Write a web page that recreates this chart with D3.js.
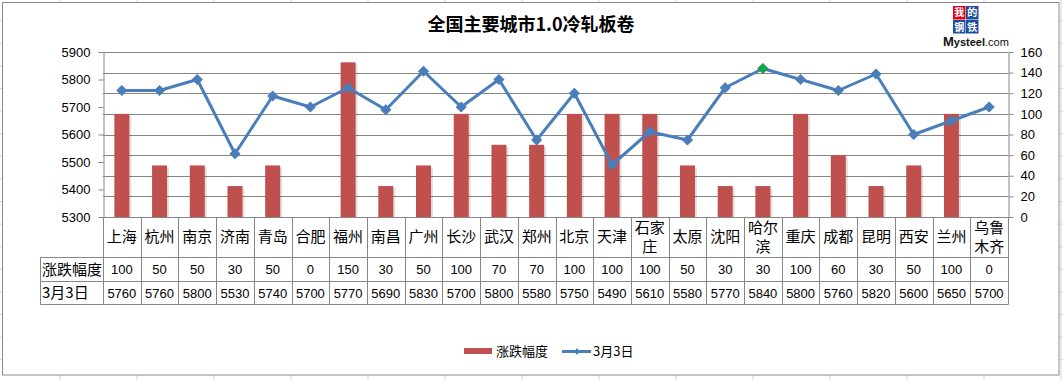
<!DOCTYPE html>
<html><head><meta charset="utf-8">
<script src="https://cdn.jsdelivr.net/npm/d3@7"></script>
<style>body{margin:0;background:#fff}svg{display:block}</style>
</head><body>
<svg id="c" width="1063" height="380"></svg>
<script>
const cities = ["上海","杭州","南京","济南","青岛","合肥","福州","南昌","广州","长沙","武汉","郑州","北京","天津","石家庄","太原","沈阳","哈尔滨","重庆","成都","昆明","西安","兰州","乌鲁木齐"];
const change = [100,50,50,30,50,0,150,30,50,100,70,70,100,100,100,50,30,30,100,60,30,50,100,0];
const price = [5760,5760,5800,5530,5740,5700,5770,5690,5830,5700,5800,5580,5750,5490,5610,5580,5770,5840,5800,5760,5820,5600,5650,5700];
const leftTicks = [5300,5400,5500,5600,5700,5800,5900];
const rightTicks = [0,20,40,60,80,100,120,140,160];
const seriesNames = ["涨跌幅度","3月3日"];
const title = "全国主要城市1.0冷轧板卷";
const highlight = "哈尔滨";

const svg = d3.select("#c");
const W = 1063, H = 380;
const CJK = "'Noto Sans CJK SC', 'Noto Sans', sans-serif";
const NUM = "'Liberation Sans', Arial, sans-serif";
const grid = "#868686";

// spreadsheet background grid
const bg = svg.append("g");
d3.range(60, W, 77).forEach(x => bg.append("line").attr("x1",x).attr("x2",x).attr("y1",0).attr("y2",H).attr("stroke","#d4d4d4"));
d3.range(20.7, H, 22.6).forEach(y => bg.append("line").attr("x1",0).attr("x2",W).attr("y1",y).attr("y2",y).attr("stroke","#d4d4d4"));
svg.append("rect").attr("x",2.5).attr("y",2.5).attr("width",1056.5).attr("height",372.5).attr("fill","#fff").attr("stroke","#8c8c8c").attr("stroke-width",1);

const L = 103, R = 1008, T = 52, B = 217;
const x = d3.scaleBand().domain(cities).range([L,R]).padding(0);
const yL = d3.scaleLinear().domain([5300,5900]).range([B,T]);
const yR = d3.scaleLinear().domain([0,160]).range([B,T]);

// gridlines
svg.append("g").selectAll("line").data(rightTicks).join("line")
  .attr("x1",L).attr("x2",R).attr("y1",d=>Math.round(yR(d))+0.5).attr("y2",d=>Math.round(yR(d))+0.5)
  .attr("stroke",grid).attr("stroke-width",1);

// axes
const axL = svg.append("g").attr("transform",`translate(${L+0.5},0)`)
  .call(d3.axisLeft(yL).tickValues(leftTicks).tickFormat(d3.format("d")).tickSize(5).tickPadding(8).tickSizeOuter(0));
const axR = svg.append("g").attr("transform",`translate(${R+0.5},0)`)
  .call(d3.axisRight(yR).tickValues(rightTicks).tickFormat(d3.format("d")).tickSize(5).tickPadding(7).tickSizeOuter(0));
[axL,axR].forEach(a=>{
  a.select(".domain").attr("stroke",grid);
  a.selectAll(".tick line").attr("stroke",grid);
  a.selectAll("text").attr("font-family",NUM).attr("font-size",13).attr("fill","#000");
});

// bars with subtle shadow
const bw = 15;
const bars = svg.append("g");
bars.selectAll("rect.sh").data(cities).join("rect")
  .attr("x",d=>x(d)+x.bandwidth()/2-bw/2+2).attr("width",bw)
  .attr("y",(d,i)=>yR(change[i])+2).attr("height",(d,i)=>Math.max(0,B-yR(change[i])-2))
  .attr("fill","#000").attr("opacity",(d,i)=>change[i]>0?0.12:0);
bars.selectAll("rect.b").data(cities).join("rect")
  .attr("x",d=>x(d)+x.bandwidth()/2-bw/2).attr("width",bw)
  .attr("y",(d,i)=>yR(change[i])).attr("height",(d,i)=>B-yR(change[i]))
  .attr("fill","#C0504D");

// line
const cx = d=>x(d)+x.bandwidth()/2;
svg.append("path").datum(cities)
  .attr("d",d3.line().x(cx).y((d,i)=>yL(price[i])))
  .attr("fill","none").attr("stroke","#4A7EBB").attr("stroke-width",3).attr("stroke-linejoin","round");
svg.append("g").selectAll("path").data(cities).join("path")
  .attr("d", d3.symbol(d3.symbolSquare, 48))
  .attr("transform",(d,i)=>`translate(${cx(d)},${yL(price[i])}) rotate(45)`)
  .attr("fill",d=>d===highlight?"#00B050":"#4A7EBB")
  .attr("stroke",d=>d===highlight?"#3a8a4a":"#4A7EBB").attr("stroke-width",1);

// table
const tbl = svg.append("g");
const rowTop = B, r1 = 257.5, r2 = 281.5, r3 = 304.5, TL = 40.5;
cities.forEach(c=>{
  tbl.append("line").attr("x1",Math.round(x(c))+0.5).attr("x2",Math.round(x(c))+0.5).attr("y1",rowTop).attr("y2",r3).attr("stroke",grid);
});
tbl.append("line").attr("x1",R+0.5).attr("x2",R+0.5).attr("y1",rowTop).attr("y2",r3).attr("stroke",grid);
tbl.append("line").attr("x1",TL).attr("x2",TL).attr("y1",r1).attr("y2",r3).attr("stroke",grid);
[r1,r2,r3].forEach(y=>tbl.append("line").attr("x1",TL).attr("x2",R+0.5).attr("y1",y).attr("y2",y).attr("stroke",grid));

cities.forEach((c,i)=>{
  const lines = c.length<=2 ? [c] : [c.slice(0,2), c.slice(2)];
  const t = tbl.append("text").attr("x",cx(c)).attr("text-anchor","middle")
    .attr("font-family",CJK).attr("font-size",15).attr("fill","#000");
  if(lines.length===1){
    t.append("tspan").attr("x",cx(c)).attr("y",242).text(lines[0]);
  } else {
    t.append("tspan").attr("x",cx(c)).attr("y",233).text(lines[0]);
    t.append("tspan").attr("x",cx(c)).attr("y",252).text(lines[1]);
  }
  tbl.append("text").attr("x",cx(c)).attr("y",274).attr("text-anchor","middle")
    .attr("font-family",NUM).attr("font-size",13).attr("fill","#000").text(change[i]);
  tbl.append("text").attr("x",cx(c)).attr("y",298).attr("text-anchor","middle")
    .attr("font-family",NUM).attr("font-size",13).attr("fill","#000").text(price[i]);
});
tbl.append("text").attr("x",42).attr("y",275).attr("font-family",CJK).attr("font-size",15).attr("fill","#000").text(seriesNames[0]);
tbl.append("text").attr("x",42).attr("y",298).attr("font-family",CJK).attr("font-size",15).attr("fill","#000").text(seriesNames[1]);

// title
svg.append("text").attr("x",531).attr("y",31).attr("text-anchor","middle")
  .attr("font-family",CJK).attr("font-weight","bold").attr("font-size",18).attr("fill","#000").text(title);

// logo
const lg = svg.append("g");
const cells = [["我",953,6,16,"#e60012"],["的",966,6,16,"#1f4e9c"],["钢",953,20,31,"#1f4e9c"],["铁",966,20,31,"#1f4e9c"]];
cells.forEach(([ch,lx,ly,bl,col])=>{
  lg.append("rect").attr("x",lx).attr("y",ly).attr("width",12.5).attr("height",13.5).attr("fill",col);
  lg.append("text").attr("x",lx+6.25).attr("y",bl).attr("text-anchor","middle").attr("font-family","'Noto Sans CJK SC'")
    .attr("font-size",10).attr("font-weight","bold").attr("fill","#fff").text(ch);
});
const mt = lg.append("text").attr("x",943).attr("y",46).attr("font-family",NUM).attr("fill","#111");
mt.append("tspan").attr("font-size",13).attr("font-weight","bold").text("M");
mt.append("tspan").attr("font-size",11).attr("font-weight","bold").text("ysteel");
mt.append("tspan").attr("font-size",11).text(".com");

// legend
const lgd = svg.append("g");
lgd.append("rect").attr("x",464).attr("y",348).attr("width",28).attr("height",6).attr("fill","#C0504D");
lgd.append("text").attr("x",496).attr("y",356).attr("font-family",CJK).attr("font-size",13).attr("fill","#000").text(seriesNames[0]);
lgd.append("line").attr("x1",562).attr("x2",591).attr("y1",351.5).attr("y2",351.5).attr("stroke","#4A7EBB").attr("stroke-width",3);
lgd.append("path").attr("d",d3.symbol(d3.symbolSquare,20)).attr("transform","translate(577,351.5) rotate(45)").attr("fill","#4A7EBB");
lgd.append("text").attr("x",593).attr("y",356).attr("font-family",CJK).attr("font-size",13).attr("fill","#000").text(seriesNames[1]);
</script>
</body></html>
